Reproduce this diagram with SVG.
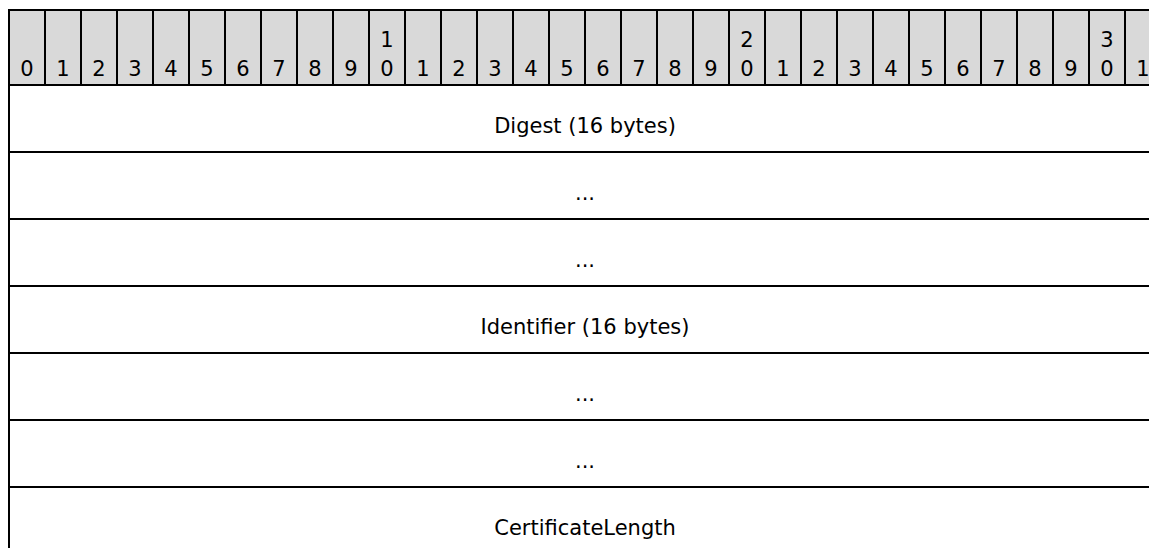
<svg xmlns="http://www.w3.org/2000/svg" width="1149" height="548" viewBox="0 0 1149 548">
<style>
.h{fill:#d9d9d9;stroke:#000;stroke-width:2}
.r{fill:#fff;stroke:#000;stroke-width:2}
text{font-family:"DejaVu Sans",Verdana,sans-serif;font-size:21px;fill:#000;text-anchor:middle}
</style>
<rect width="1149" height="548" fill="#fff"/>
<g id="header">
<rect class="h" x="9" y="10" width="36" height="75"/><text x="27" y="76">0</text>
<rect class="h" x="45" y="10" width="36" height="75"/><text x="63" y="76">1</text>
<rect class="h" x="81" y="10" width="36" height="75"/><text x="99" y="76">2</text>
<rect class="h" x="117" y="10" width="36" height="75"/><text x="135" y="76">3</text>
<rect class="h" x="153" y="10" width="36" height="75"/><text x="171" y="76">4</text>
<rect class="h" x="189" y="10" width="36" height="75"/><text x="207" y="76">5</text>
<rect class="h" x="225" y="10" width="36" height="75"/><text x="243" y="76">6</text>
<rect class="h" x="261" y="10" width="36" height="75"/><text x="279" y="76">7</text>
<rect class="h" x="297" y="10" width="36" height="75"/><text x="315" y="76">8</text>
<rect class="h" x="333" y="10" width="36" height="75"/><text x="351" y="76">9</text>
<rect class="h" x="369" y="10" width="36" height="75"/><text x="387" y="47">1</text><text x="387" y="76">0</text>
<rect class="h" x="405" y="10" width="36" height="75"/><text x="423" y="76">1</text>
<rect class="h" x="441" y="10" width="36" height="75"/><text x="459" y="76">2</text>
<rect class="h" x="477" y="10" width="36" height="75"/><text x="495" y="76">3</text>
<rect class="h" x="513" y="10" width="36" height="75"/><text x="531" y="76">4</text>
<rect class="h" x="549" y="10" width="36" height="75"/><text x="567" y="76">5</text>
<rect class="h" x="585" y="10" width="36" height="75"/><text x="603" y="76">6</text>
<rect class="h" x="621" y="10" width="36" height="75"/><text x="639" y="76">7</text>
<rect class="h" x="657" y="10" width="36" height="75"/><text x="675" y="76">8</text>
<rect class="h" x="693" y="10" width="36" height="75"/><text x="711" y="76">9</text>
<rect class="h" x="729" y="10" width="36" height="75"/><text x="747" y="47">2</text><text x="747" y="76">0</text>
<rect class="h" x="765" y="10" width="36" height="75"/><text x="783" y="76">1</text>
<rect class="h" x="801" y="10" width="36" height="75"/><text x="819" y="76">2</text>
<rect class="h" x="837" y="10" width="36" height="75"/><text x="855" y="76">3</text>
<rect class="h" x="873" y="10" width="36" height="75"/><text x="891" y="76">4</text>
<rect class="h" x="909" y="10" width="36" height="75"/><text x="927" y="76">5</text>
<rect class="h" x="945" y="10" width="36" height="75"/><text x="963" y="76">6</text>
<rect class="h" x="981" y="10" width="36" height="75"/><text x="999" y="76">7</text>
<rect class="h" x="1017" y="10" width="36" height="75"/><text x="1035" y="76">8</text>
<rect class="h" x="1053" y="10" width="36" height="75"/><text x="1071" y="76">9</text>
<rect class="h" x="1089" y="10" width="36" height="75"/><text x="1107" y="47">3</text><text x="1107" y="76">0</text>
<rect class="h" x="1125" y="10" width="36" height="75"/><text x="1143" y="76">1</text>
</g>
<g id="digest"><rect class="r" x="9" y="85" width="1152" height="67"/><text x="585" y="133">Digest (16 bytes)</text></g>
<g id="digest-cont1"><rect class="r" x="9" y="152" width="1152" height="67"/><text x="585" y="200">...</text></g>
<g id="digest-cont2"><rect class="r" x="9" y="219" width="1152" height="67"/><text x="585" y="267">...</text></g>
<g id="identifier"><rect class="r" x="9" y="286" width="1152" height="67"/><text x="585" y="334">Identifier (16 bytes)</text></g>
<g id="identifier-cont1"><rect class="r" x="9" y="353" width="1152" height="67"/><text x="585" y="401">...</text></g>
<g id="identifier-cont2"><rect class="r" x="9" y="420" width="1152" height="67"/><text x="585" y="468">...</text></g>
<g id="certificate-length"><rect class="r" x="9" y="487" width="1152" height="80"/><text x="585" y="535">CertificateLength</text></g>
<g id="connectors"/>
</svg>
